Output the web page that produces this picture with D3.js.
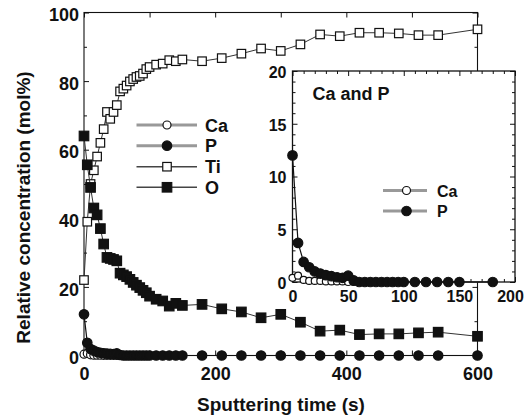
<!DOCTYPE html>
<html><head><meta charset="utf-8">
<script src="https://cdn.jsdelivr.net/npm/d3@7"></script>
<style>
body{margin:0;background:#fff;}
svg{display:block;}
text{font-family:"Liberation Sans",Arial,Helvetica,sans-serif;font-weight:bold;fill:#111;}
</style></head><body>
<svg id="c" width="525" height="419"></svg>
<script>
// ---- data ----
const time = [0,5,10,15,20,25,30,35,40,45,50,55,60,65,70,75,80,85,90,95,100,
              110,120,130,140,150,180,210,240,270,300,330,360,390,420,450,480,510,540,600];
const tiValues = [22,39,50,54,58,62,66,71,69,71,73,77,77.8,78.7,79.9,80.6,81.2,81.5,82.2,83.5,84.1,
                  84.8,85.1,86.1,85.8,86.3,85.8,86.7,88,89.5,88.8,90.7,93.6,93.1,94.1,94.1,93.9,93.4,93.4,95.1];
const oValues  = [64,55.6,49,43,41,37,32.5,28.6,28.3,28,27.6,24,23.5,23,22.2,21.3,20.5,19.8,19,18.3,17.3,
                  16.4,15.9,14.4,15.2,14.6,14.9,13.6,12.7,11,12,9.7,7.1,7.4,6.1,6.3,6.3,6.6,6.8,5.6];
const pValues  = [12,3.7,1.9,1.4,1.0,0.8,0.65,0.55,0.45,0.4,0.6,0.15,0,0,0,0,0,0,0,0,0,
                  0,0,0,0,0,0,0,0,0,0,0,0,0,0,0,0,0,0,0];
const caValues = [0.4,0.6,0.2,0.1,0.1,0.1,0.05,0.05,0.05,0.05,0,0,0,0,0,0,0,0,0,0,0,
                  0,0,0,0,0,0,0,0,0,0,0,0,0,0,0,0,0,0,0];
const mainXTicks = [0,100,200,300,400,500,600];
const mainXLabels = [0,200,400,600];
const mainYMajor = [0,20,40,60,80,100];
const mainYMinor = [10,30,50,70,90];
const insetXMajor = [0,50,100,150,200];
const insetYMajor = [0,5,10,15,20];
const legendMain = ["Ca","P","Ti","O"];
const legendInset = ["Ca","P"];

const svg = d3.select("#c");
const x = d3.scaleLinear().domain([0,600]).range([84,477.5]);
const y = d3.scaleLinear().domain([0,100]).range([355.5,12.5]);
const xi = d3.scaleLinear().domain([0,200]).range([292.5,515]);
const yi = d3.scaleLinear().domain([0,20]).range([282,71]);

const series = {
  Ca: time.map((t,i)=>({t, v:caValues[i]})),
  P:  time.map((t,i)=>({t, v:pValues[i]})),
  Ti: time.map((t,i)=>({t, v:tiValues[i]})),
  O:  time.map((t,i)=>({t, v:oValues[i]}))
};

function styleAxis(g, fs){
  g.select(".domain").remove();
  g.selectAll(".tick line").attr("stroke","#111").attr("stroke-width",1);
  g.selectAll(".tick text").attr("font-size",fs).attr("fill","#111")
    .style("font-family",'"Liberation Sans",Arial,sans-serif').style("font-weight","bold");
}

// ---- main frame & axes ----
const main = svg.append("g");
main.append("rect").attr("x",x(0)).attr("y",y(100)).attr("width",x(600)-x(0)).attr("height",y(0)-y(100))
  .attr("fill","none").attr("stroke","#111").attr("stroke-width",1.1);

main.append("g").attr("transform",`translate(0,${y(0)})`)
  .call(d3.axisBottom(x).tickValues(mainXTicks).tickSize(-5).tickPadding(12)
    .tickFormat(d=>mainXLabels.includes(d)?d:""))
  .call(g=>styleAxis(g,18));
main.append("g").attr("transform",`translate(0,${y(100)})`)
  .call(d3.axisTop(x).tickValues(mainXTicks).tickSize(-5).tickFormat(""))
  .call(g=>styleAxis(g,18));
main.append("g").attr("transform",`translate(${x(0)},0)`)
  .call(d3.axisLeft(y).tickValues(mainYMajor).tickSize(-5).tickPadding(5))
  .call(g=>styleAxis(g,18))
  .call(g=>g.selectAll(".tick text").attr("dy","0.45em"));
main.append("g").attr("transform",`translate(${x(0)},0)`)
  .call(d3.axisLeft(y).tickValues(mainYMinor).tickSize(-3).tickFormat(""))
  .call(g=>styleAxis(g,18));
main.append("g").attr("transform",`translate(${x(600)},0)`)
  .call(d3.axisRight(y).tickValues(mainYMajor).tickSize(-5).tickFormat(""))
  .call(g=>styleAxis(g,18));
main.append("g").attr("transform",`translate(${x(600)},0)`)
  .call(d3.axisRight(y).tickValues(mainYMinor).tickSize(-3).tickFormat(""))
  .call(g=>styleAxis(g,18));

// ---- markers ----
function drawSeries(g, data, xs, ys, kind, size, lineColor, lineWidth){
  const line = d3.line().x(d=>xs(d.t)).y(d=>ys(d.v));
  g.append("path").datum(data).attr("d",line).attr("fill","none")
    .attr("stroke",lineColor).attr("stroke-width",lineWidth);
  drawMarkers(g, data.map(d=>[xs(d.t),ys(d.v)]), kind, size);
}
function drawMarkers(g, pts, kind, size){
  const sel = g.append("g").selectAll("x").data(pts).enter();
  if(kind==="sqOpen"||kind==="sqFill"){
    sel.append("rect").attr("x",d=>d[0]-size/2).attr("y",d=>d[1]-size/2)
      .attr("width",size).attr("height",size)
      .attr("fill",kind==="sqFill"?"#111":"#fff").attr("stroke","#111").attr("stroke-width",1.2);
  } else {
    sel.append("circle").attr("cx",d=>d[0]).attr("cy",d=>d[1]).attr("r",size/2)
      .attr("fill",kind==="cFill"?"#111":"#fff").attr("stroke","#111").attr("stroke-width",1.2);
  }
}
const kinds = {Ca:"cOpen", P:"cFill", Ti:"sqOpen", O:"sqFill"};
const mainSizes = {Ca:8, P:9.5, Ti:8.5, O:9.5};

drawSeries(main, series.Ti, x, y, "sqOpen", mainSizes.Ti, "#333", 1);
drawSeries(main, series.O, x, y, "sqFill", mainSizes.O, "#333", 1);
drawSeries(main, series.Ca, x, y, "cOpen", mainSizes.Ca, "#333", 1);
drawSeries(main, series.P, x, y, "cFill", mainSizes.P, "#111", 1.2);

// ---- main legend ----
const legRowsY = [125,145.7,166.7,187.3];
legendMain.forEach((k,i)=>{
  const yy = legRowsY[i];
  const gray = (k==="Ca"||k==="P");
  main.append("line").attr("x1",136.5).attr("x2",197).attr("y1",yy).attr("y2",yy)
    .attr("stroke",gray?"#999":"#444").attr("stroke-width",gray?3:1.6);
  drawMarkers(main, [[167,yy]], kinds[k], mainSizes[k]);
  main.append("text").attr("x",205).attr("y",yy+6.5).attr("font-size",18).text(k);
});

// ---- axis titles ----
svg.append("text").attr("x",281).attr("y",410.5).attr("text-anchor","middle")
  .attr("font-size",19).text("Sputtering time (s)");
svg.append("text").attr("transform","translate(30,207.5) rotate(-90)").attr("text-anchor","middle")
  .attr("font-size",19).text("Relative concentration (mol%)");

// ---- inset ----
const inset = svg.append("g");
inset.append("rect").attr("x",xi(0)).attr("y",yi(20)).attr("width",xi(200)-xi(0)).attr("height",yi(0)-yi(20))
  .attr("fill","#fff").attr("stroke","#111").attr("stroke-width",1.3);
const insetXMinor = d3.range(10,200,10).filter(d=>d%50!==0);
const insetYMinor = d3.range(1,20,1).filter(d=>d%5!==0);
inset.append("g").attr("transform",`translate(0,${yi(0)})`)
  .call(d3.axisBottom(xi).tickValues(insetXMajor).tickSize(-5).tickPadding(9))
  .call(g=>styleAxis(g,16))
  .call(g=>g.selectAll(".tick text").filter(d=>d===200).attr("dx",-5));
inset.append("g").attr("transform",`translate(0,${yi(0)})`)
  .call(d3.axisBottom(xi).tickValues(insetXMinor).tickSize(-3).tickFormat(""))
  .call(g=>styleAxis(g,16));
inset.append("g").attr("transform",`translate(0,${yi(20)})`)
  .call(d3.axisTop(xi).tickValues(insetXMajor).tickSize(-5).tickFormat(""))
  .call(g=>styleAxis(g,16));
inset.append("g").attr("transform",`translate(0,${yi(20)})`)
  .call(d3.axisTop(xi).tickValues(insetXMinor).tickSize(-3).tickFormat(""))
  .call(g=>styleAxis(g,16));
inset.append("g").attr("transform",`translate(${xi(0)},0)`)
  .call(d3.axisLeft(yi).tickValues(insetYMajor).tickSize(-5).tickPadding(6))
  .call(g=>styleAxis(g,16))
  .call(g=>g.selectAll(".tick text").attr("dy","0.4em"));
inset.append("g").attr("transform",`translate(${xi(0)},0)`)
  .call(d3.axisLeft(yi).tickValues(insetYMinor).tickSize(-3).tickFormat(""))
  .call(g=>styleAxis(g,16));
inset.append("g").attr("transform",`translate(${xi(200)},0)`)
  .call(d3.axisRight(yi).tickValues(insetYMajor).tickSize(-5).tickFormat(""))
  .call(g=>styleAxis(g,16));
inset.append("g").attr("transform",`translate(${xi(200)},0)`)
  .call(d3.axisRight(yi).tickValues(insetYMinor).tickSize(-3).tickFormat(""))
  .call(g=>styleAxis(g,16));

const inDom = d=>d.t<=200;
drawSeries(inset, series.Ca.filter(inDom), xi, yi, "cOpen", 7, "#333", 1);
drawSeries(inset, series.P.filter(inDom), xi, yi, "cFill", 9.5, "#111", 1.2);

inset.append("text").attr("x",312.5).attr("y",100).attr("font-size",18).text("Ca and P");
const insLegY = [190.5,211];
legendInset.forEach((k,i)=>{
  const yy = insLegY[i];
  inset.append("line").attr("x1",383).attr("x2",427).attr("y1",yy).attr("y2",yy)
    .attr("stroke","#999").attr("stroke-width",3);
  drawMarkers(inset, [[406.5,yy]], kinds[k], k==="Ca"?8:9.5);
  inset.append("text").attr("x",437).attr("y",yy+6).attr("font-size",16).text(k);
});
</script>
</body></html>
